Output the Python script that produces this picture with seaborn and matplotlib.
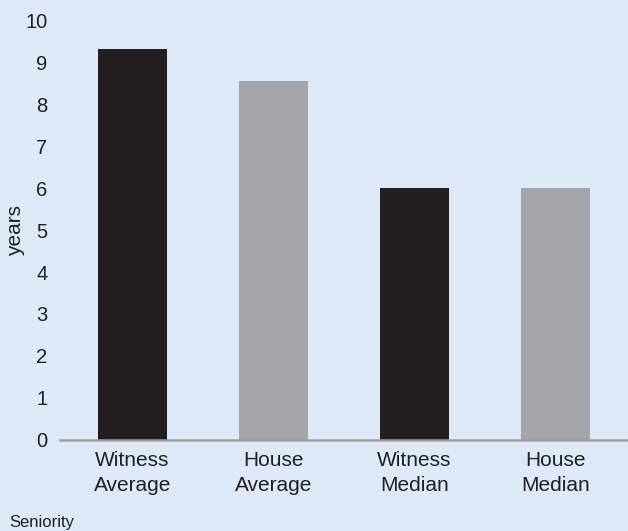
import matplotlib
matplotlib.use("Agg")
import matplotlib.pyplot as plt
import seaborn as sns
import pandas as pd

# Seniority of witnesses vs. House members, in years
categories = ["Witness\nAverage", "House\nAverage", "Witness\nMedian", "House\nMedian"]
years = [9.33, 8.56, 6.0, 6.0]
bar_colors = ["#231f20", "#a4a5a9", "#231f20", "#a4a5a9"]
y_ticks = [0, 1, 2, 3, 4, 5, 6, 7, 8, 9, 10]

bg = "#dde9f7"
ink = "#231f20"

sns.set_theme(style="white")
plt.rcParams["font.family"] = ["Liberation Sans", "DejaVu Sans"]

df = pd.DataFrame({"category": categories, "years": years})

fig = plt.figure(figsize=(6.28, 5.31), dpi=100, facecolor=bg)
ax = fig.add_axes([60 / 628, 91.5 / 531, 568 / 628, 418.5 / 531])
ax.set_facecolor(bg)

sns.barplot(data=df, x="category", y="years", hue="category",
            palette=bar_colors, legend=False, width=0.49,
            saturation=1, linewidth=0, edgecolor="none", ax=ax)

ax.set_xlim(-0.514, 3.514)
ax.set_ylim(0, 10)
ax.set_yticks(y_ticks)
ax.set_yticklabels([str(t) for t in y_ticks], fontsize=14.5, color=ink)
ax.tick_params(axis="y", length=0, pad=9)
ax.tick_params(axis="x", length=0, pad=8, labelsize=15, labelcolor=ink)
for lbl in ax.get_xticklabels():
    lbl.set_linespacing(1.45)
for lbl in ax.get_yticklabels():
    lbl.set_clip_on(False)

ax.set_xlabel("")
ax.set_ylabel("years", fontsize=15, color=ink)
ax.yaxis.set_label_coords(-0.0775, 0.5)
ax.yaxis.label.set_va("center")

for side in ["top", "right", "left"]:
    ax.spines[side].set_visible(False)
ax.spines["bottom"].set_color("#a0a0a0")
ax.spines["bottom"].set_linewidth(1.8)

fig.text(9 / 628, 1 - 527 / 531, "Seniority", fontsize=12, color=ink,
         ha="left", va="baseline")

fig.savefig("out.png", dpi=100, facecolor=bg)
